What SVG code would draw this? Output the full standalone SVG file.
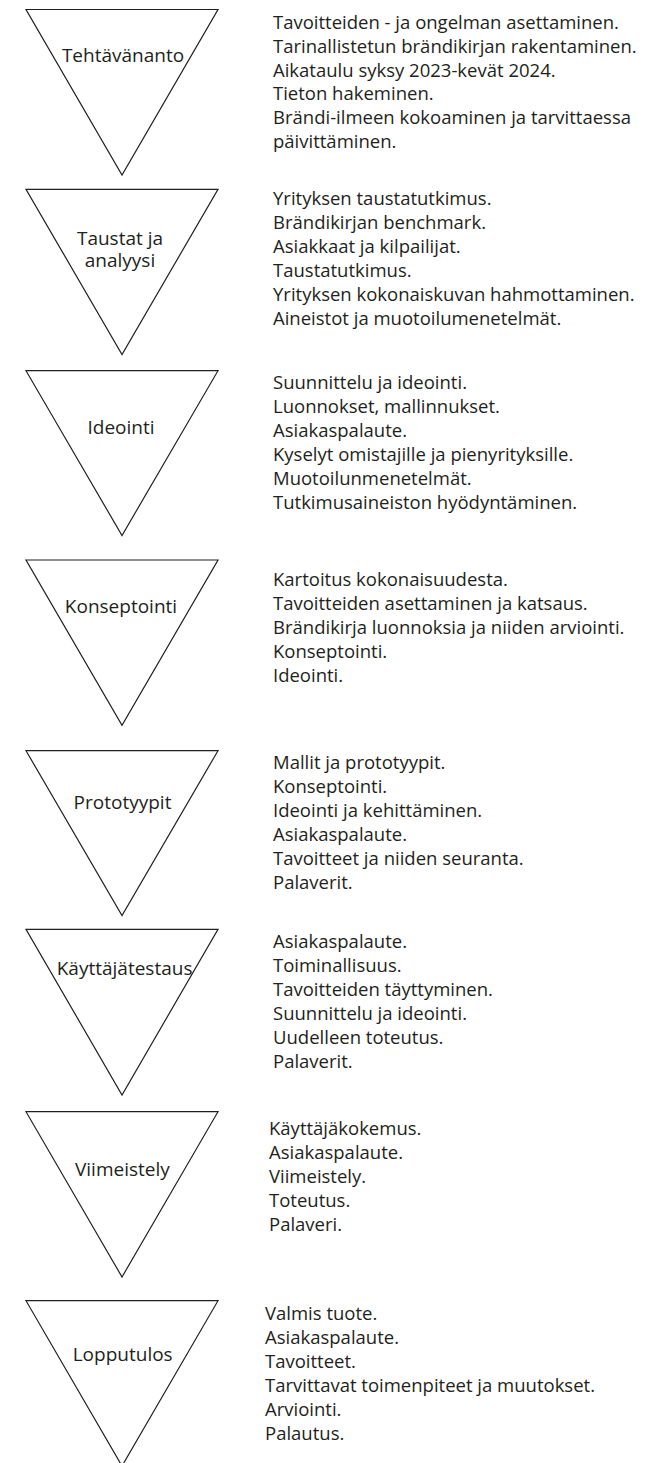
<svg xmlns="http://www.w3.org/2000/svg" width="656" height="1463" viewBox="0 0 656 1463">
<style>
.tri{fill:#ffffff;stroke:#231f20;stroke-width:1.2;stroke-linejoin:miter}
.lbl{font-family:"Open Sans","Noto Sans",sans-serif;font-size:19px;fill:#231f20;text-anchor:middle}
.txt{font-family:"Open Sans","Noto Sans",sans-serif;font-size:18.5px;fill:#231f20}
</style>
<rect x="0" y="0" width="656" height="1463" fill="#ffffff"/>
<g id="connectors"></g>
<g id="node-tehtavananto">
<polygon class="tri" points="26,9.5 218,9.5 122,175"/>
<text class="lbl" x="123" y="61.7">Tehtävänanto</text>
<text class="txt" x="273" y="29"><tspan x="273" dy="0">Tavoitteiden - ja ongelman asettaminen.</tspan><tspan x="273" dy="23.8">Tarinallistetun brändikirjan rakentaminen.</tspan><tspan x="273" dy="23.8">Aikataulu syksy 2023-kevät 2024.</tspan><tspan x="273" dy="23.8">Tieton hakeminen.</tspan><tspan x="273" dy="23.8">Brändi-ilmeen kokoaminen ja tarvittaessa</tspan><tspan x="273" dy="23.8">päivittäminen.</tspan></text>
</g>
<g id="node-taustat">
<polygon class="tri" points="26,189.3 218,189.3 122,354.5"/>
<text class="lbl" x="120" y="245"><tspan x="120" dy="0">Taustat ja</tspan><tspan x="120" dy="22">analyysi</tspan></text>
<text class="txt" x="273" y="205"><tspan x="273" dy="0">Yrityksen taustatutkimus.</tspan><tspan x="273" dy="24">Brändikirjan benchmark.</tspan><tspan x="273" dy="24">Asiakkaat ja kilpailijat.</tspan><tspan x="273" dy="24">Taustatutkimus.</tspan><tspan x="273" dy="24">Yrityksen kokonaiskuvan hahmottaminen.</tspan><tspan x="273" dy="24">Aineistot ja muotoilumenetelmät.</tspan></text>
</g>
<g id="node-ideointi">
<polygon class="tri" points="26,370.7 218,370.7 122,535.5"/>
<text class="lbl" x="121" y="434.2">Ideointi</text>
<text class="txt" x="273" y="389"><tspan x="273" dy="0">Suunnittelu ja ideointi.</tspan><tspan x="273" dy="24">Luonnokset, mallinnukset.</tspan><tspan x="273" dy="24">Asiakaspalaute.</tspan><tspan x="273" dy="24">Kyselyt omistajille ja pienyrityksille.</tspan><tspan x="273" dy="24">Muotoilunmenetelmät.</tspan><tspan x="273" dy="24">Tutkimusaineiston hyödyntäminen.</tspan></text>
</g>
<g id="node-konseptointi">
<polygon class="tri" points="26,560 218,560 122,725.3"/>
<text class="lbl" x="121" y="612.8">Konseptointi</text>
<text class="txt" x="273" y="585.5"><tspan x="273" dy="0">Kartoitus kokonaisuudesta.</tspan><tspan x="273" dy="24">Tavoitteiden asettaminen ja katsaus.</tspan><tspan x="273" dy="24">Brändikirja luonnoksia ja niiden arviointi.</tspan><tspan x="273" dy="24">Konseptointi.</tspan><tspan x="273" dy="24">Ideointi.</tspan></text>
</g>
<g id="node-prototyypit">
<polygon class="tri" points="26,750.7 218,750.7 122,915.5"/>
<text class="lbl" x="122.5" y="809">Prototyypit</text>
<text class="txt" x="273" y="768.5"><tspan x="273" dy="0">Mallit ja prototyypit.</tspan><tspan x="273" dy="24">Konseptointi.</tspan><tspan x="273" dy="24">Ideointi ja kehittäminen.</tspan><tspan x="273" dy="24">Asiakaspalaute.</tspan><tspan x="273" dy="24">Tavoitteet ja niiden seuranta.</tspan><tspan x="273" dy="24">Palaverit.</tspan></text>
</g>
<g id="node-kayttajatestaus">
<polygon class="tri" points="26,929.3 218,929.3 122,1095"/>
<text class="lbl" x="124.6" y="975.1">Käyttäjätestaus</text>
<text class="txt" x="273" y="947.5"><tspan x="273" dy="0">Asiakaspalaute.</tspan><tspan x="273" dy="24">Toiminallisuus.</tspan><tspan x="273" dy="24">Tavoitteiden täyttyminen.</tspan><tspan x="273" dy="24">Suunnittelu ja ideointi.</tspan><tspan x="273" dy="24">Uudelleen toteutus.</tspan><tspan x="273" dy="24">Palaverit.</tspan></text>
</g>
<g id="node-viimeistely">
<polygon class="tri" points="26,1111.7 218,1111.7 122,1277"/>
<text class="lbl" x="122.4" y="1175.8">Viimeistely</text>
<text class="txt" x="269" y="1135"><tspan x="269" dy="0">Käyttäjäkokemus.</tspan><tspan x="269" dy="24">Asiakaspalaute.</tspan><tspan x="269" dy="24">Viimeistely.</tspan><tspan x="269" dy="24">Toteutus.</tspan><tspan x="269" dy="24">Palaveri.</tspan></text>
</g>
<g id="node-lopputulos">
<polygon class="tri" points="26,1300.7 218,1300.7 122,1466"/>
<text class="lbl" x="122.7" y="1360.5">Lopputulos</text>
<text class="txt" x="265" y="1320"><tspan x="265" dy="0">Valmis tuote.</tspan><tspan x="265" dy="24">Asiakaspalaute.</tspan><tspan x="265" dy="24">Tavoitteet.</tspan><tspan x="265" dy="24">Tarvittavat toimenpiteet ja muutokset.</tspan><tspan x="265" dy="24">Arviointi.</tspan><tspan x="265" dy="24">Palautus.</tspan></text>
</g>
</svg>
